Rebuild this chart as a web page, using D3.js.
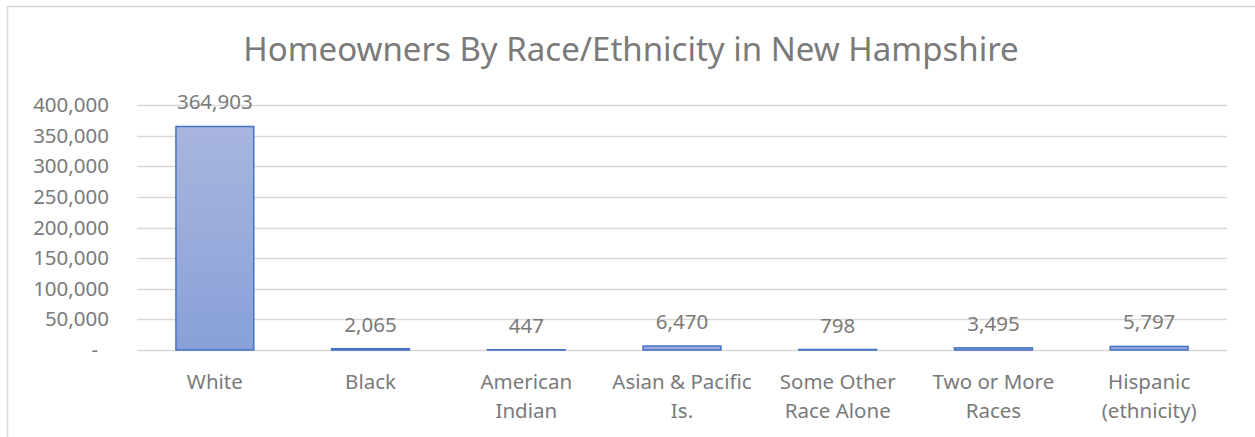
<!DOCTYPE html>
<html>
<head>
<meta charset="utf-8">
<script src="https://cdn.jsdelivr.net/npm/d3@7"></script>
<style>
  body { margin: 0; background: #fff; }
  svg { display: block; font-family: "Noto Sans", "Open Sans", sans-serif; }
</style>
</head>
<body>
<div id="chart"></div>
<script>
// data
const categories = [
  ["White"],
  ["Black"],
  ["American", "Indian"],
  ["Asian & Pacific", "Is."],
  ["Some Other", "Race Alone"],
  ["Two or More", "Races"],
  ["Hispanic", "(ethnicity)"]
];
const values = [364903, 2065, 447, 6470, 798, 3495, 5797];
const yTicks = [0, 50000, 100000, 150000, 200000, 250000, 300000, 350000, 400000];

const TITLE = "Homeowners By Race/Ethnicity in New Hampshire";

const width = 1255;
const height = 437;
const margin = { top: 105, right: 28, bottom: 87, left: 137 };
const textColor = "#7a7a7a";
const gridColor = "#d9d9d9";
const fontSize = "20.5px";

const data = categories.map((c, i) => ({ key: c.join(" "), lines: c, value: values[i] }));

const svg = d3.select("#chart")
  .append("svg")
  .attr("width", width)
  .attr("height", height);

// chart frame (only top and left edges visible)
svg.append("path")
  .attr("d", `M7.5,${height} V6.5 H${width}`)
  .attr("fill", "none")
  .attr("stroke", gridColor)
  .attr("stroke-width", 1.5);

const x = d3.scaleBand()
  .domain(data.map((d) => d.key))
  .range([margin.left, width - margin.right])
  .paddingInner(0.5)
  .paddingOuter(0.25);

const y = d3.scaleLinear()
  .domain([0, 400000])
  .range([height - margin.bottom, margin.top]);

// gradient for bars
const grad = svg.append("defs").append("linearGradient")
  .attr("id", "barGrad")
  .attr("x1", 0).attr("y1", 0).attr("x2", 0).attr("y2", 1);
grad.append("stop").attr("offset", "0%").attr("stop-color", "#a8b6de");
grad.append("stop").attr("offset", "100%").attr("stop-color", "#88a0d8");

// gridlines
svg.append("g")
  .selectAll("line")
  .data(yTicks)
  .join("line")
  .attr("x1", margin.left)
  .attr("x2", width - margin.right)
  .attr("y1", (d) => Math.round(y(d)) + 0.5)
  .attr("y2", (d) => Math.round(y(d)) + 0.5)
  .attr("stroke", gridColor)
  .attr("stroke-width", 1.5);

// y axis labels
const yAxis = d3.axisLeft(y)
  .tickValues(yTicks)
  .tickSize(0)
  .tickPadding(28)
  .tickFormat((d) => (d === 0 ? "-" : d3.format(",")(d)));

const yg = svg.append("g")
  .attr("transform", `translate(${margin.left},0)`)
  .call(yAxis);
yg.select(".domain").remove();
yg.selectAll("text")
  .attr("fill", textColor)
  .style("font-size", fontSize)
  .style("font-family", "\"Noto Sans\", sans-serif")
  .attr("x", (d) => (d === 0 ? -39 : -28));

// bars
svg.append("g")
  .selectAll("rect")
  .data(data)
  .join("rect")
  .attr("x", (d) => x(d.key))
  .attr("y", (d) => y(d.value))
  .attr("width", x.bandwidth())
  .attr("height", (d) => y(0) - y(d.value))
  .attr("fill", "url(#barGrad)")
  .attr("stroke", "#4472c4")
  .attr("stroke-width", 1.5);

// data labels
svg.append("g")
  .selectAll("text")
  .data(data)
  .join("text")
  .attr("x", (d) => x(d.key) + x.bandwidth() / 2)
  .attr("y", (d) => y(d.value) - 17)
  .attr("text-anchor", "middle")
  .attr("fill", textColor)
  .style("font-size", fontSize)
  .text((d) => d3.format(",")(d.value));

// category labels
const cat = svg.append("g")
  .selectAll("text")
  .data(data)
  .join("text")
  .attr("text-anchor", "middle")
  .attr("fill", textColor)
  .style("font-size", fontSize);

cat.selectAll("tspan")
  .data((d) => d.lines.map((l) => ({ l, cx: x(d.key) + x.bandwidth() / 2 })))
  .join("tspan")
  .attr("x", (d) => d.cx)
  .attr("y", (d, i) => 389 + i * 29)
  .text((d) => d.l);

// title
svg.append("text")
  .attr("x", 631)
  .attr("y", 61)
  .attr("text-anchor", "middle")
  .attr("fill", textColor)
  .style("font-size", "33px")
  .text(TITLE);
</script>
</body>
</html>
